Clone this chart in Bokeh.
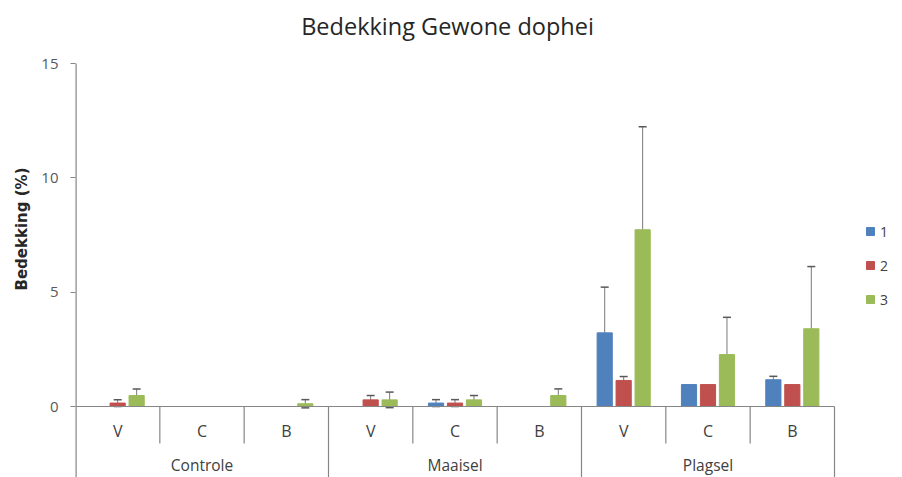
from bokeh.plotting import figure
from bokeh.models import (Range1d, ColumnDataSource, Whisker, TeeHead, FixedTicker,
                          Legend, LegendItem, Title)
from bokeh.core.properties import value
from bokeh.embed import file_html
from bokeh.resources import INLINE

title_text = "Bedekking Gewone dophei"
groups = ["Controle", "Maaisel", "Plagsel"]
subs = ["V", "C", "B"]
series_names = ["1", "2", "3"]
s1 = [0, 0, 0, 0, 0.15, 0, 3.22, 0.96, 1.17]
e1 = [0, 0, 0, 0, 0.15, 0, 2.0, 0, 0.15]
s2 = [0.15, 0, 0, 0.29, 0.15, 0, 1.14, 0.96, 0.96]
e2 = [0.15, 0, 0, 0.19, 0.15, 0, 0.17, 0, 0]
s3 = [0.48, 0, 0.12, 0.29, 0.29, 0.48, 7.73, 2.27, 3.40]
e3 = [0.29, 0, 0.18, 0.34, 0.19, 0.29, 4.5, 1.63, 2.72]
y_ticks = [0, 5, 10, 15]

colors = ["#4F81BD", "#C0504D", "#9BBB59"]
offsets = [-0.225, 0.0, 0.225]
FONT = "Open Sans"

W, H = 900, 477
PXX = 759 / 9.0        # pixels per category slot
PXY = 343 / 15.0       # pixels per percent
p = figure(width=W, height=H, output_backend="svg", toolbar_location=None,
           x_range=Range1d(0, (W - 75) / PXX),
           y_range=Range1d(15 + 63 / PXY - H / PXY, 15 + 63 / PXY))
p.min_border_left = 75
p.min_border_right = 0
p.min_border_top = 0
p.min_border_bottom = 0
p.outline_line_color = None
p.xgrid.visible = False
p.ygrid.visible = False
p.xaxis.visible = False

ya = p.yaxis[0]
ya.ticker = FixedTicker(ticks=y_ticks)
ya.axis_line_color = None
ya.major_tick_line_color = "#868686"
ya.major_tick_in = 0
ya.major_tick_out = 5
ya.minor_tick_line_color = None
ya.major_label_text_font = FONT
ya.major_label_text_font_size = "15px"
ya.major_label_text_color = "#595959"
ya.major_label_standoff = 12

p.add_layout(Title(text="Bedekking (%)", align="left", offset=187, text_font="DejaVu Sans",
                   text_font_size="15px", text_font_style="bold",
                   text_color="#262626", standoff=16), "left")

# chart title, placed above the 0..15 plotting area
p.text(x=[(447 - 75) / PXX], y=[15 + (63 - 25) / PXY], text=[title_text],
       text_font=value(FONT), text_font_size="23.5px", text_color="#262626",
       text_align="center", text_baseline="middle")

# value axis line (stops at 15, continues down as left edge of the category box)
p.segment(x0=[0], y0=[-3.3], x1=[0], y1=[15], line_color="#868686", line_width=2.4)

items = []
for k, (vals, errs) in enumerate([(s1, e1), (s2, e2), (s3, e3)]):
    xs = [i + 0.5 + offsets[k] for i in range(9)]
    src = ColumnDataSource(dict(x=[x for x, v in zip(xs, vals) if v > 0],
                                top=[v for v in vals if v > 0]))
    r = p.vbar(x="x", top="top", bottom=0, width=0.18, source=src,
               fill_color=colors[k], line_color=colors[k])
    items.append(LegendItem(label=series_names[k], renderers=[r]))
    wx = [x for x, v, e in zip(xs, vals, errs) if e > 0]
    wl = [v - e for v, e in zip(vals, errs) if e > 0]
    wu = [v + e for v, e in zip(vals, errs) if e > 0]
    wsrc = ColumnDataSource(dict(x=wx, lower=wl, upper=wu))
    p.add_layout(Whisker(base="x", lower="lower", upper="upper", source=wsrc,
                         line_color="#7a7a7a", line_width=1,
                         upper_head=TeeHead(size=8, line_color="#595959", line_width=1.5),
                         lower_head=TeeHead(size=8, line_color="#595959", line_width=1.5)))

# category axis drawn at y=0
p.segment(x0=[0], y0=[0], x1=[9], y1=[0], line_color="#868686", line_width=1.2)
minor = [i for i in range(1, 9) if i % 3 != 0]
major = [3, 6, 9]
p.segment(x0=minor, y0=[0] * len(minor), x1=minor, y1=[-1.62] * len(minor),
          line_color="#868686", line_width=1.2)
p.segment(x0=major, y0=[0] * len(major), x1=major, y1=[-3.3] * len(major),
          line_color="#868686", line_width=1.2)

sub_x = [i + 0.5 for i in range(9)]
sub_t = [subs[i % 3] for i in range(9)]
p.text(x=sub_x, y=[-1.09] * 9, text=sub_t, text_font=value(FONT), text_font_size="16px",
       text_color="#404040", text_align="center", text_baseline="middle")
p.text(x=[1.5, 4.5, 7.5], y=[-2.56] * 3, text=groups, text_font=value(FONT),
       text_font_size="15.5px", text_color="#404040", text_align="center",
       text_baseline="middle")

legend = Legend(items=items, location=(790, 168), orientation="vertical",
                glyph_width=10, glyph_height=10, label_height=20, label_standoff=5,
                spacing=14, padding=0, margin=0, border_line_color=None,
                background_fill_alpha=0,
                label_text_font=FONT, label_text_font_size="14px",
                label_text_color="#404040")
p.add_layout(legend)

open("out.html", "w").write(file_html(p, INLINE))
